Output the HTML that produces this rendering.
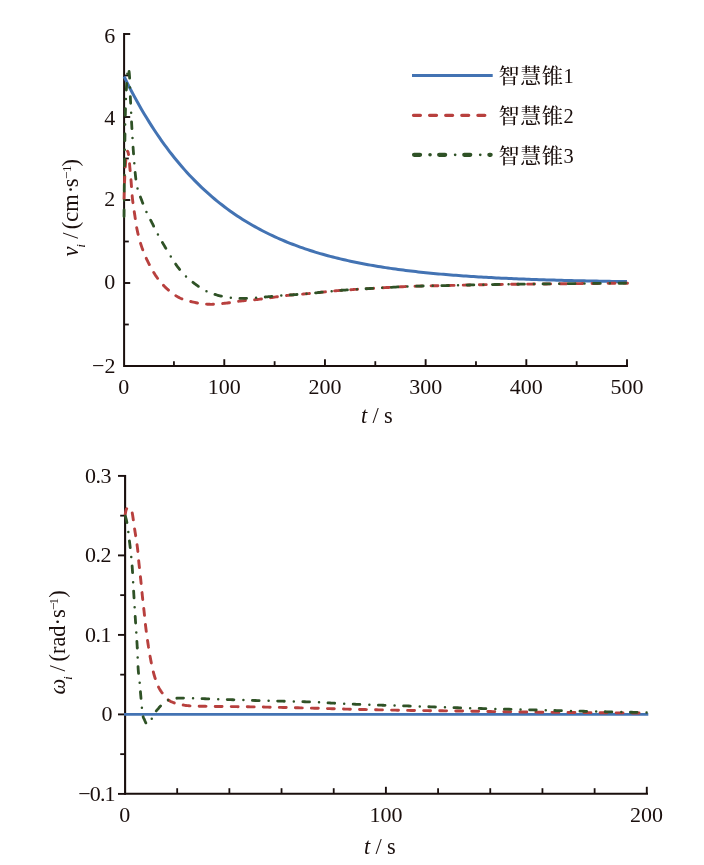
<!DOCTYPE html>
<html lang="zh"><head><meta charset="utf-8"><title>图</title>
<style>html,body{margin:0;padding:0;background:#fff}svg{display:block}text{font-family:"Liberation Serif","Noto Serif CJK SC",serif;fill:#1a0f0d}</style>
</head><body>
<svg width="704" height="865" viewBox="0 0 704 865">
<rect width="704" height="865" fill="#fff"/>
<g stroke="#1a0f0d" fill="none">
<path d="M124.1 33V366H628" stroke-width="2"/>
<path d="M124 324.50H128.8" stroke-width="1.8"/>
<path d="M124 283.00H130.2" stroke-width="1.9"/>
<path d="M124 241.50H128.8" stroke-width="1.8"/>
<path d="M124 200.00H130.2" stroke-width="1.9"/>
<path d="M124 158.50H128.8" stroke-width="1.8"/>
<path d="M124 117.00H130.2" stroke-width="1.9"/>
<path d="M124 75.50H128.8" stroke-width="1.8"/>
<path d="M124 34.00H130.2" stroke-width="1.9"/>
<path d="M173.94 366V361.2" stroke-width="1.8"/>
<path d="M224.28 366V359.2" stroke-width="1.9"/>
<path d="M274.62 366V361.2" stroke-width="1.8"/>
<path d="M324.96 366V359.2" stroke-width="1.9"/>
<path d="M375.30 366V361.2" stroke-width="1.8"/>
<path d="M425.64 366V359.2" stroke-width="1.9"/>
<path d="M475.98 366V361.2" stroke-width="1.8"/>
<path d="M526.32 366V359.2" stroke-width="1.9"/>
<path d="M576.66 366V361.2" stroke-width="1.8"/>
<path d="M627.00 366V359.2" stroke-width="1.9"/>
</g>
<g fill="none" stroke-linejoin="round" stroke-linecap="round">
<path d="M124.10 76.53L126.62 81.63L129.13 86.59L131.65 91.44L134.16 96.16L136.68 100.77L139.19 105.27L141.70 109.65L144.22 113.93L146.73 118.10L149.25 122.16L151.76 126.13L154.28 130.00L156.79 133.77L159.31 137.46L161.82 141.05L164.34 144.55L166.85 147.96L169.36 151.29L171.88 154.54L174.39 157.71L176.91 160.80L179.42 163.81L181.94 166.75L184.45 169.62L186.97 172.42L189.48 175.15L191.99 177.81L194.51 180.40L197.02 182.93L199.54 185.40L202.05 187.81L204.57 190.16L207.08 192.45L209.60 194.68L212.11 196.86L214.62 198.98L217.14 201.05L219.65 203.08L222.17 205.05L224.68 206.97L227.20 208.85L229.71 210.67L232.23 212.46L234.74 214.20L237.26 215.90L239.77 217.55L242.28 219.16L244.80 220.74L247.31 222.27L249.83 223.77L252.34 225.23L254.86 226.66L257.37 228.05L259.89 229.40L262.40 230.73L264.91 232.02L267.43 233.27L269.94 234.50L272.46 235.70L274.97 236.86L277.49 238.00L280.00 239.11L282.52 240.19L285.03 241.25L287.54 242.28L290.06 243.28L292.57 244.26L295.09 245.22L297.60 246.15L300.12 247.06L302.63 247.95L305.15 248.81L307.66 249.65L310.18 250.48L312.69 251.28L315.20 252.06L317.72 252.82L320.23 253.57L322.75 254.29L325.26 255.00L327.78 255.69L330.29 256.37L332.81 257.02L335.32 257.66L337.83 258.29L340.35 258.90L342.86 259.49L345.38 260.07L347.89 260.64L350.41 261.19L352.92 261.73L355.44 262.25L357.95 262.76L360.46 263.26L362.98 263.75L365.49 264.22L368.01 264.69L370.52 265.14L373.04 265.58L375.55 266.01L378.07 266.43L380.58 266.84L383.10 267.24L385.61 267.63L388.12 268.00L390.64 268.37L393.15 268.74L395.67 269.09L398.18 269.43L400.70 269.76L403.21 270.09L405.73 270.41L408.24 270.72L410.75 271.02L413.27 271.32L415.78 271.61L418.30 271.89L420.81 272.16L423.33 272.43L425.84 272.69L428.36 272.94L430.87 273.19L433.38 273.43L435.90 273.67L438.41 273.90L440.93 274.12L443.44 274.34L445.96 274.56L448.47 274.77L450.99 274.97L453.50 275.17L456.02 275.36L458.53 275.55L461.04 275.73L463.56 275.91L466.07 276.09L468.59 276.26L471.10 276.42L473.62 276.59L476.13 276.74L478.65 276.90L481.16 277.05L483.67 277.20L486.19 277.34L488.70 277.48L491.22 277.61L493.73 277.75L496.25 277.88L498.76 278.00L501.28 278.13L503.79 278.25L506.30 278.36L508.82 278.48L511.33 278.59L513.85 278.70L516.36 278.80L518.88 278.91L521.39 279.01L523.91 279.11L526.42 279.20L528.94 279.30L531.45 279.39L533.96 279.48L536.48 279.56L538.99 279.65L541.51 279.73L544.02 279.81L546.54 279.89L549.05 279.97L551.57 280.04L554.08 280.12L556.59 280.19L559.11 280.26L561.62 280.32L564.14 280.39L566.65 280.45L569.17 280.52L571.68 280.58L574.20 280.64L576.71 280.70L579.22 280.75L581.74 280.81L584.25 280.86L586.77 280.92L589.28 280.97L591.80 281.02L594.31 281.07L596.83 281.11L599.34 281.16L601.86 281.21L604.37 281.25L606.88 281.29L609.40 281.33L611.91 281.38L614.43 281.42L616.94 281.45L619.46 281.49L621.97 281.53L624.49 281.57L627.00 281.60" stroke="#4373b3" stroke-width="3.00" stroke-linecap="butt"/>
<path d="M124.04 199.15L124.06 198.06L124.09 196.94L124.12 195.72L124.15 194.43L124.18 193.06L124.21 192.25M124.51 183.06L124.56 181.60L124.63 180.03L124.69 178.44L124.72 177.64L124.76 176.84L124.79 176.16M125.27 166.98L125.32 166.16L125.41 164.98L125.49 163.84L125.58 162.74L125.67 161.69L125.77 160.67L125.82 160.10" stroke="#b8403e" stroke-width="2.90"/>
<path d="M127.55 151.19L127.99 151.96L128.21 152.85L128.38 153.68L128.54 154.58M129.54 163.72L129.61 164.56L129.69 165.55L129.77 166.54L129.86 167.52L129.94 168.47L130.03 169.40L130.12 170.31L130.14 170.59M130.98 179.75L131.05 180.66L131.16 182.07L131.27 183.57L131.38 185.14L131.44 185.95L131.49 186.63M132.18 195.81L132.27 196.80L132.42 198.35L132.58 199.83L132.75 201.27L132.92 202.67M134.25 211.77L134.40 212.68L134.60 213.99L134.80 215.30L135.00 216.61L135.18 217.90L135.28 218.59M136.69 227.68L136.90 228.74L137.16 230.04L137.45 231.36L137.75 232.70L138.07 234.06L138.16 234.43M140.56 243.31L140.87 244.33L141.28 245.63L141.70 246.90L142.12 248.13L142.55 249.33L142.74 249.85M146.28 258.34L146.84 259.53L147.40 260.70L147.98 261.90L148.59 263.12L149.21 264.35L149.31 264.54M153.76 272.59L154.38 273.59L155.12 274.74L155.88 275.85L156.64 276.95L157.41 278.03L157.62 278.30M163.49 285.38L164.11 286.02L165.03 286.94L165.98 287.85L166.95 288.76L167.94 289.66L168.48 290.14M175.80 295.70L176.51 296.13L177.63 296.79L178.77 297.40L179.91 297.96L181.06 298.48L181.93 298.84M190.72 301.53L192.05 301.85L193.36 302.15L194.70 302.44L196.06 302.71L197.46 302.96L197.47 302.97M206.59 304.13L207.42 304.19L208.81 304.27L210.18 304.32L211.54 304.33L212.89 304.31L213.49 304.29M222.65 303.51L223.51 303.42L224.84 303.27L226.16 303.13L227.49 302.96L228.82 302.78L229.50 302.69M238.59 301.27L239.41 301.15L240.74 300.98L242.06 300.83L243.39 300.69L244.71 300.56L245.45 300.50M254.62 299.77L255.98 299.64L257.30 299.50L258.62 299.34L259.95 299.18L261.28 299.00L261.47 298.98M270.58 297.67L271.88 297.48L273.20 297.30L274.52 297.12L275.85 296.93L277.17 296.75L277.41 296.72M286.53 295.49L287.78 295.35L289.10 295.20L290.42 295.06L291.75 294.94L293.08 294.83L293.39 294.80M302.57 294.11L303.68 294.02L305.00 293.90L306.32 293.78L307.62 293.65L308.92 293.53L309.44 293.47M318.59 292.53L319.50 292.44L320.90 292.30L322.29 292.16L323.66 292.01L325.00 291.87L325.45 291.82M334.60 290.87L336.17 290.73L337.08 290.65L338.02 290.58L339.00 290.50L340.00 290.42L341.03 290.35L341.48 290.31M350.66 289.68L352.38 289.58L353.62 289.50L354.88 289.42L356.17 289.34L357.47 289.26L357.55 289.25M366.73 288.71L368.60 288.60L370.09 288.51L371.62 288.42L373.19 288.33L373.62 288.30M382.80 287.76L384.95 287.64L386.71 287.54L388.48 287.44L389.69 287.37M398.88 286.88L400.93 286.78L402.68 286.69L404.42 286.61L405.77 286.55M414.96 286.21L416.05 286.17L417.67 286.13L419.28 286.08L420.89 286.04L421.86 286.02M431.06 285.83L432.04 285.81L433.63 285.78L435.23 285.75L436.83 285.72L437.96 285.70M447.16 285.52L448.20 285.50L449.85 285.46L451.49 285.42L453.13 285.39L454.05 285.36M463.25 285.14L464.53 285.11L466.18 285.07L467.83 285.03L469.49 284.99L470.15 284.98M479.35 284.78L481.59 284.73L483.40 284.70L485.24 284.66L486.25 284.65M495.44 284.50L496.92 284.48L498.98 284.45L501.06 284.43L502.34 284.41M511.54 284.30L513.92 284.27L516.11 284.25L518.30 284.23L518.44 284.23M527.64 284.13L529.27 284.11L531.44 284.09L533.60 284.07L534.54 284.06M543.74 283.96L546.38 283.93L548.54 283.91L550.64 283.89M559.84 283.79L561.54 283.77L563.70 283.75L565.84 283.73L566.74 283.72M575.94 283.63L578.40 283.61L580.42 283.59L582.40 283.57L582.84 283.57M592.04 283.48L593.68 283.47L595.54 283.45L597.41 283.43L598.94 283.42M608.14 283.35L610.16 283.33L611.88 283.32L613.55 283.31L615.04 283.29M624.24 283.23L625.73 283.21L626.67 283.21L627.50 283.20" stroke="#b8403e" stroke-width="2.90"/>
<path d="M124.01 216.50L124.02 215.55L124.03 214.07L124.04 213.26L124.04 212.41L124.05 211.52L124.06 210.59L124.07 209.80M124.24 191.20L124.25 190.02L124.26 188.72L124.28 187.41L124.29 186.07L124.30 184.71L124.31 184.50M124.52 165.90L124.53 165.08L124.55 163.41L124.58 161.72L124.60 160.00L124.61 159.20M124.88 140.61L124.89 139.76L124.92 137.57L124.96 135.38L124.98 133.91M125.32 115.31L125.36 113.57L125.40 112.00L125.44 110.51L125.48 109.07L125.50 108.61M126.34 90.03L126.42 88.50L126.50 87.00L126.57 85.60L126.63 84.35L126.68 83.34" stroke="#2f5226" stroke-width="2.80"/>
<path d="M124.15 200.30h.01M124.41 175.00h.01M124.75 149.70h.01M125.14 124.41h.01M125.87 99.12h.01M127.37 73.87h.01" stroke="#2f5226" stroke-width="2.50"/>
<path d="M129.05 71.39L129.18 72.39L129.27 73.20L129.35 74.09L129.42 75.02L129.50 76.00L129.57 77.05L129.64 78.06M130.33 96.65L130.37 97.56L130.42 98.65L130.47 99.78L130.53 100.94L130.59 102.12L130.66 103.32L130.66 103.34M131.56 121.92L131.61 122.89L131.70 124.50L131.75 125.36L131.80 126.26L131.85 127.20L131.91 128.17L131.93 128.60M133.07 147.17L133.15 148.25L133.22 149.34L133.30 150.40L133.38 151.46L133.46 152.53L133.54 153.62L133.56 153.85M135.13 172.39L135.23 173.38L135.32 174.21L135.48 175.75L135.63 177.15L135.77 178.41L135.85 179.05M140.42 197.01L140.83 198.12L141.20 199.10L141.57 200.10L141.95 201.11L142.33 202.13L142.73 203.16L142.78 203.28M150.62 220.13L151.18 221.21L151.66 222.14L152.13 223.06L152.60 223.99L153.05 224.91L153.51 225.83L153.64 226.11M162.43 242.49L163.07 243.60L163.60 244.50L164.13 245.40L164.66 246.30L165.19 247.20L165.72 248.10L165.82 248.27M175.65 264.06L176.37 265.10L176.99 265.97L177.61 266.82L178.24 267.65L178.87 268.47L179.49 269.27L179.63 269.44M192.96 282.34L193.69 282.89L194.52 283.51L195.37 284.15L196.23 284.79L197.11 285.44L198.01 286.08L198.35 286.32M214.97 294.46L215.78 294.70L216.80 295.00L217.83 295.28L218.86 295.55L219.90 295.80L220.96 296.04L221.45 296.15M239.90 298.35L240.90 298.38L241.97 298.39L243.03 298.40L244.09 298.39L245.14 298.36L246.18 298.32L246.59 298.30M265.15 296.98L266.46 296.88L267.50 296.80L268.50 296.72L269.44 296.64L270.33 296.56L271.20 296.47L271.82 296.42M290.36 294.96L292.29 294.83L293.44 294.75L294.60 294.67L295.74 294.59L296.88 294.51L297.05 294.50M315.57 292.86L316.38 292.78L317.60 292.64L318.87 292.51L320.20 292.37L321.60 292.23L322.24 292.16M340.75 290.37L342.07 290.27L343.14 290.19L344.22 290.12L345.33 290.04L346.45 289.96L347.43 289.90M366.00 288.75L367.14 288.68L368.60 288.60L370.09 288.51L371.62 288.42L372.69 288.36M391.26 287.28L393.83 287.14L395.61 287.05L397.39 286.96L397.95 286.93M416.53 286.16L417.67 286.13L419.28 286.08L420.89 286.04L422.49 286.00L423.23 285.99M441.82 285.63L443.28 285.60L444.91 285.57L446.55 285.54L448.20 285.50L448.52 285.49M467.12 285.05L469.49 284.99L471.17 284.95L472.86 284.92L473.82 284.89M492.41 284.55L494.89 284.51L496.92 284.48L498.98 284.45L499.11 284.45M517.71 284.23L520.50 284.20L522.70 284.18L524.41 284.16M543.01 283.97L544.24 283.95L546.38 283.93L548.54 283.91L549.71 283.90M568.31 283.71L570.10 283.69L572.21 283.67L574.30 283.65L575.01 283.64M593.61 283.47L595.54 283.45L597.41 283.43L599.27 283.42L600.31 283.41M618.91 283.27L621.05 283.25L622.35 283.24L623.56 283.23L624.69 283.22L625.61 283.21" stroke="#2f5226" stroke-width="2.80"/>
<path d="M130.05 87.55h.01M131.13 112.83h.01M132.49 138.09h.01M134.31 163.32h.01M137.52 188.39h.01M146.44 212.04h.01M157.93 234.58h.01M170.77 256.38h.01M186.00 276.48h.01M206.47 291.23h.01M230.82 297.67h.01M256.07 297.63h.01M281.29 295.60h.01M306.52 293.77h.01M331.68 291.15h.01M356.91 289.29h.01M382.17 287.80h.01M407.44 286.48h.01M432.73 285.80h.01M458.02 285.27h.01M483.31 284.70h.01M508.61 284.33h.01M533.91 284.06h.01M559.21 283.80h.01M584.51 283.55h.01M609.81 283.33h.01" stroke="#2f5226" stroke-width="2.50"/>
</g>
<text x="115.15" y="43.00" font-size="22.00" text-anchor="end">6</text>
<text x="115.15" y="125.00" font-size="22.00" text-anchor="end">4</text>
<text x="115.15" y="206.00" font-size="22.00" text-anchor="end">2</text>
<text x="115.15" y="289.00" font-size="22.00" text-anchor="end">0</text>
<text x="115.50" y="373.00" font-size="22.00" text-anchor="end">−2</text>
<text x="123.65" y="394.00" font-size="22.00" text-anchor="middle">0</text>
<text x="224.33" y="394.00" font-size="22.00" text-anchor="middle">100</text>
<text x="325.01" y="394.00" font-size="22.00" text-anchor="middle">200</text>
<text x="425.69" y="394.00" font-size="22.00" text-anchor="middle">300</text>
<text x="526.37" y="394.00" font-size="22.00" text-anchor="middle">400</text>
<text x="627.05" y="394.00" font-size="22.00" text-anchor="middle">500</text>
<text x="361.0" y="423" font-size="22.4" word-spacing="-0.35"><tspan font-style="italic">t</tspan> / s</text>
<text transform="translate(78.3 256.2) rotate(-90)" font-size="22.4"><tspan x="-0.3" font-style="italic">v</tspan><tspan x="8.5" dy="6.4" font-size="13.3" font-style="italic">i</tspan><tspan x="11.8" dy="-6.4"> / </tspan><tspan x="27">(cm</tspan><tspan x="62.9">·</tspan><tspan x="69">s</tspan><tspan x="77.1" dy="-7.3" font-size="13.3">−</tspan><tspan x="84.2" font-size="13.3">1</tspan><tspan x="89.6" dy="7.3">)</tspan></text>
<g fill="none" stroke-linecap="round">
<path d="M412 75.45H492.7" stroke="#4373b3" stroke-width="3.1" stroke-linecap="butt"/>
<path d="M413.5 115.3H420.4M429.6 115.3H436.5M445.7 115.3H452.6M461.8 115.3H468.7M477.9 115.3H484.8" stroke="#b8403e" stroke-width="3.3"/>
<path d="M414.1 154.8H420M439.2 154.8H445.1M464.3 154.8H470.2M489.4 154.8H490.6" stroke="#2f5226" stroke-width="4.3"/>
<path d="M430.05 154.8h.01" stroke="#2f5226" stroke-width="3.6"/>
<path d="M455.15 154.8h.01M480.25 154.8h.01" stroke="#2f5226" stroke-width="2.7"/>
</g>
<text x="498.5" y="83.00" font-size="21"><tspan letter-spacing="0.7" font-weight="500">智慧锥</tspan><tspan font-size="20.4">1</tspan></text>
<text x="498.5" y="123.00" font-size="21"><tspan letter-spacing="0.7" font-weight="500">智慧锥</tspan><tspan font-size="20.4">2</tspan></text>
<text x="498.5" y="163.00" font-size="21"><tspan letter-spacing="0.7" font-weight="500">智慧锥</tspan><tspan font-size="20.4">3</tspan></text>
<g stroke="#1a0f0d" fill="none">
<path d="M125.1 475V793.8H648" stroke-width="2.1"/>
<path d="M118 793.90H126" stroke-width="1.9"/>
<path d="M120.2 754.15H126" stroke-width="1.8"/>
<path d="M118 714.40H126" stroke-width="1.9"/>
<path d="M120.2 674.65H126" stroke-width="1.8"/>
<path d="M118 634.90H126" stroke-width="1.9"/>
<path d="M120.2 595.15H126" stroke-width="1.8"/>
<path d="M118 555.40H126" stroke-width="1.9"/>
<path d="M120.2 515.65H126" stroke-width="1.8"/>
<path d="M118 475.90H126" stroke-width="1.9"/>
<path d="M177.18 794V788.2" stroke-width="1.8"/>
<path d="M229.36 794V788.2" stroke-width="1.8"/>
<path d="M281.54 794V788.2" stroke-width="1.8"/>
<path d="M333.72 794V788.2" stroke-width="1.8"/>
<path d="M385.90 794V786.8" stroke-width="1.9"/>
<path d="M438.08 794V788.2" stroke-width="1.8"/>
<path d="M490.26 794V788.2" stroke-width="1.8"/>
<path d="M542.44 794V788.2" stroke-width="1.8"/>
<path d="M594.62 794V788.2" stroke-width="1.8"/>
<path d="M646.80 794V786.8" stroke-width="1.9"/>
</g>
<g fill="none" stroke-linejoin="round" stroke-linecap="round">
<path d="M124 714.4H648.3" stroke="#4373b3" stroke-width="2.8" stroke-linecap="butt"/>
<path d="M125.20 514.30L125.37 513.43L125.56 512.43L125.72 511.60L125.90 510.76L126.11 509.97L126.43 509.11L126.66 508.72M132.23 513.00L132.39 513.81L132.57 514.87L132.76 516.01L132.94 517.24L133.12 518.52L133.30 519.82M134.59 528.87L134.78 530.04L134.90 530.84L135.03 531.66L135.17 532.48L135.30 533.32L135.44 534.16L135.57 535.01L135.68 535.68M137.05 544.72L137.20 545.84L137.39 547.34L137.56 548.78L137.72 550.18L137.86 551.54L137.86 551.57M138.69 560.67L138.83 562.10L138.97 563.50L139.13 564.93L139.28 566.37L139.41 567.53M140.42 576.62L140.57 578.07L140.73 579.50L140.87 580.90L141.01 582.28L141.13 583.48M142.01 592.58L142.13 593.72L142.26 595.06L142.40 596.40L142.54 597.75L142.69 599.10L142.73 599.44M143.76 608.52L143.91 609.88L144.06 611.19L144.20 612.50L144.34 613.79L144.47 615.05L144.50 615.38M145.43 624.47L145.56 625.61L145.72 626.93L145.88 628.28L146.06 629.66L146.24 631.06L146.27 631.32M147.52 640.38L147.65 641.25L147.87 642.72L148.09 644.18L148.31 645.63L148.54 647.09L148.56 647.20M150.05 656.22L150.26 657.40L150.53 658.84L150.79 660.24L151.06 661.62L151.34 662.97L151.34 662.99M153.33 671.92L153.64 673.16L153.96 674.34L154.29 675.50L154.63 676.64L154.97 677.75L155.23 678.55M158.55 687.05L159.09 688.09L159.60 689.00L160.15 689.92L160.74 690.86L161.37 691.80L162.03 692.73L162.17 692.92M168.16 699.79L168.79 700.30L169.56 700.84L170.31 701.27L171.06 701.64L171.82 701.96L172.63 702.26L173.49 702.58L174.28 702.88M183.17 704.97L184.00 705.14L184.98 705.32L185.98 705.47L186.82 705.58L187.80 705.67L188.96 705.77L189.83 705.83L190.01 705.84M199.14 706.21L200.38 706.24L201.49 706.26L202.69 706.28L204.00 706.30L205.43 706.32L206.04 706.33M215.18 706.44L216.20 706.45L218.29 706.47L220.44 706.50L222.08 706.51M231.22 706.60L234.25 706.63L236.62 706.66L238.12 706.68M247.26 706.79L248.36 706.80L250.62 706.83L252.84 706.87L254.16 706.89M263.29 707.05L265.75 707.09L267.91 707.14L270.08 707.18L270.19 707.18M279.33 707.37L280.91 707.41L283.07 707.45L285.23 707.50L286.23 707.52M295.37 707.74L298.05 707.80L300.15 707.85L302.25 707.90L302.27 707.90M311.40 708.13L312.48 708.15L314.47 708.21L316.44 708.26L318.30 708.31M327.44 708.58L329.99 708.65L331.92 708.71L333.86 708.76L334.33 708.78M343.47 709.03L345.70 709.09L347.74 709.15L349.80 709.20L350.37 709.21M359.50 709.43L360.53 709.45L362.76 709.50L365.01 709.55L366.40 709.58M375.54 709.78L376.51 709.80L378.84 709.85L381.18 709.89L382.44 709.92M391.58 710.10L392.85 710.12L395.17 710.16L397.47 710.21L398.48 710.22M407.62 710.38L408.70 710.40L410.88 710.43L413.05 710.47L414.51 710.49M423.65 710.60L425.88 710.63L427.99 710.65L430.09 710.68L430.55 710.68M439.69 710.77L440.50 710.78L442.57 710.80L444.63 710.83L446.59 710.85M455.73 710.96L456.95 710.97L459.00 711.00L461.04 711.03L462.63 711.05M471.77 711.20L473.05 711.22L475.03 711.26L477.00 711.29L478.67 711.32M487.81 711.49L488.82 711.51L490.80 711.54L492.79 711.58L494.71 711.61M503.85 711.75L504.93 711.77L507.00 711.80L509.08 711.83L510.74 711.85M519.88 711.97L521.50 711.99L523.58 712.02L525.67 712.04L526.78 712.06M535.92 712.16L538.41 712.19L540.59 712.21L542.78 712.24L542.82 712.24M551.96 712.33L554.09 712.35L556.43 712.38L558.80 712.40L558.86 712.40M568.00 712.48L569.05 712.49L571.79 712.52L574.58 712.54L574.90 712.54M584.04 712.62L586.04 712.64L588.92 712.66L590.94 712.67M600.08 712.75L602.95 712.77L605.61 712.79L606.98 712.80M616.12 712.86L617.54 712.87L619.59 712.89L621.50 712.90L623.02 712.91M632.16 712.96L633.70 712.97L634.91 712.97L636.05 712.98L637.14 712.98L638.17 712.98L639.06 712.98" stroke="#b8403e" stroke-width="2.90"/>
<path d="M125.36 516.05L125.57 516.86L125.82 517.80L126.10 518.89L126.30 519.70L126.50 520.57L126.70 521.51L126.91 522.51L126.92 522.56M129.42 540.90L129.52 541.71L129.70 543.20L129.87 544.65L130.05 546.10L130.21 547.55L130.21 547.55M132.13 565.96L132.20 566.83L132.27 567.88L132.35 569.11L132.45 570.54L132.55 572.16L132.58 572.65M133.63 591.13L133.74 592.96L133.80 594.00L133.86 595.04L133.93 596.08L133.99 597.13L134.03 597.82M135.19 616.29L135.26 617.37L135.33 618.44L135.40 619.50L135.47 620.56L135.54 621.62L135.61 622.69L135.63 622.98M136.89 641.44L136.98 642.82L137.04 643.86L137.10 644.90L137.16 645.94L137.21 647.00L137.26 648.07L137.27 648.13M138.05 666.63L138.10 667.58L138.15 668.41L138.25 669.95L138.36 671.35L138.48 672.62L138.55 673.31M140.43 691.72L140.52 692.80L140.61 693.86L140.70 694.90L140.79 695.94L140.88 696.99L140.98 698.04L141.01 698.39M143.13 716.76L143.42 717.55L143.77 718.29L144.19 719.14L144.54 719.93L144.89 720.79L145.26 721.64L145.62 722.42L145.85 722.88M156.22 710.99L156.72 710.35L157.35 709.64L157.97 708.97L158.52 708.34L159.03 707.71L159.64 706.96L160.20 706.33L160.59 705.91M176.83 698.23L177.75 698.18L178.66 698.14L179.62 698.11L180.67 698.09L181.81 698.08L182.64 698.08L183.53 698.09M202.03 698.67L203.22 698.71L205.03 698.77L206.95 698.84L208.73 698.91M227.22 699.57L230.47 699.68L233.05 699.77L233.92 699.80M252.42 700.41L255.20 700.50L257.43 700.57L259.12 700.61M277.62 701.08L280.49 701.14L282.76 701.19L284.32 701.23M302.82 701.69L304.79 701.75L306.40 701.80L307.92 701.85L309.34 701.90L309.52 701.91M328.00 702.88L329.23 702.95L330.20 703.00L331.19 703.05L332.17 703.10L333.15 703.15L334.13 703.20L334.69 703.23M353.18 704.16L354.00 704.20L355.08 704.25L356.17 704.29L357.28 704.34L358.40 704.38L359.53 704.43L359.88 704.44M378.37 705.10L379.22 705.13L380.32 705.16L381.40 705.20L382.45 705.23L383.44 705.27L384.39 705.29L385.07 705.31M403.57 705.84L405.50 705.90L407.08 705.95L408.75 706.01L410.27 706.07M428.77 706.75L430.95 706.83L433.18 706.92L435.43 707.00L435.46 707.00M453.96 707.65L455.40 707.70L457.52 707.77L459.64 707.84L460.66 707.87M479.16 708.42L481.08 708.48L483.24 708.54L485.40 708.60L485.86 708.61M504.36 709.13L507.00 709.20L509.16 709.26L511.06 709.31M529.56 709.82L530.94 709.86L533.12 709.92L535.30 709.98L536.26 710.00M554.76 710.49L556.71 710.55L558.80 710.60L560.88 710.65L561.46 710.67M579.96 711.15L581.50 711.19L583.52 711.24L585.54 711.29L586.66 711.32M605.16 711.76L606.80 711.80L608.66 711.84L610.55 711.88L611.86 711.90M630.37 712.23L631.72 712.25L633.49 712.28L635.21 712.31L636.87 712.34L637.07 712.34" stroke="#2f5226" stroke-width="2.80"/>
<path d="M128.32 531.96h.01M131.25 557.00h.01M133.12 582.13h.01M134.62 607.30h.01M136.29 632.45h.01M137.66 657.62h.01M139.67 682.74h.01M141.89 707.85h.01M151.74 718.80h.01M168.09 700.20h.01M193.03 698.35h.01M218.22 699.25h.01M243.41 700.12h.01M268.61 700.86h.01M293.82 701.45h.01M319.01 702.35h.01M344.18 703.73h.01M369.37 704.79h.01M394.57 705.57h.01M419.76 706.41h.01M444.96 707.34h.01M470.15 708.16h.01M495.35 708.88h.01M520.55 709.58h.01M545.75 710.26h.01M570.95 710.92h.01M596.16 711.56h.01M621.36 712.08h.01M646.57 712.49h.01" stroke="#2f5226" stroke-width="2.50"/>
</g>
<text x="85.00" y="483.00" font-size="22.00" letter-spacing="-0.50">0.3</text>
<text x="85.10" y="562.00" font-size="22.00" letter-spacing="-0.50">0.2</text>
<text x="85.10" y="642.00" font-size="22.00" letter-spacing="-0.50">0.1</text>
<text x="101.45" y="721.00" font-size="22.00" letter-spacing="0.00">0</text>
<text x="78.20" y="801.00" font-size="22.00" letter-spacing="-0.85">−0.1</text>
<text x="124.70" y="822.00" font-size="22.00" text-anchor="middle">0</text>
<text x="386.00" y="822.00" font-size="22.00" text-anchor="middle">100</text>
<text x="646.60" y="822.00" font-size="22.00" text-anchor="middle">200</text>
<text x="364" y="854" font-size="22.4" word-spacing="-0.35"><tspan font-style="italic">t</tspan> / s</text>
<text transform="translate(65.3 694.4) rotate(-90)" font-size="22.4"><tspan x="0" font-style="italic">ω</tspan><tspan x="14.4" dy="7.1" font-size="13.3" font-style="italic">i</tspan><tspan x="17.3" dy="-7.1"> / </tspan><tspan x="32.9">(rad·s</tspan><tspan x="84.3" dy="-7.3" font-size="13.3">−</tspan><tspan x="89.8" font-size="13.3">1</tspan><tspan x="96.7" dy="7.3">)</tspan></text>
</svg></body></html>
